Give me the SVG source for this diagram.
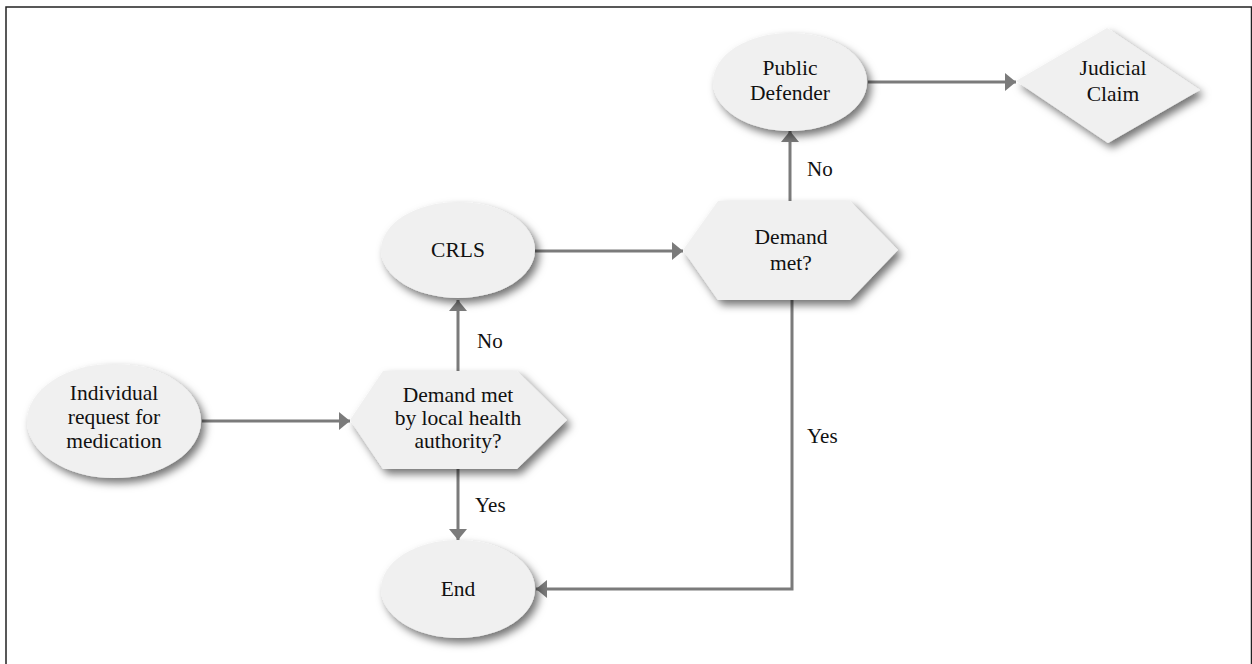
<svg xmlns="http://www.w3.org/2000/svg" width="1252" height="664" viewBox="0 0 1252 664">
<defs>
<style>
.node{fill:#f0f0f0;filter:url(#sh);}
.t{font-family:"Liberation Serif","Times New Roman",serif;font-size:21.5px;fill:#111;text-anchor:middle;}
.lbl{font-family:"Liberation Serif","Times New Roman",serif;font-size:21px;fill:#111;}
.c{fill:none;stroke:#7b7b7b;stroke-width:3;marker-end:url(#ah);}
</style>
<filter id="sh" x="-20%" y="-20%" width="150%" height="160%">
<feDropShadow dx="4" dy="5" stdDeviation="4" flood-color="#000" flood-opacity="0.55"/>
</filter>
<marker id="ah" markerUnits="userSpaceOnUse" markerWidth="12" markerHeight="18" refX="11" refY="9" orient="auto">
<path d="M0,0 L11,9 L0,18 z" fill="#7b7b7b"/>
</marker>
</defs>
<rect x="6" y="7" width="1245.5" height="700" fill="#fff" stroke="#222" stroke-width="1.5"/>
<g id="connectors">
<path class="c" d="M202,421 L350,421"/>
<path class="c" d="M458,371 L458,300"/>
<path class="c" d="M458,469 L458,540"/>
<path class="c" d="M535,251 L683,251"/>
<path class="c" d="M790,201 L790,131"/>
<path class="c" d="M868,82 L1016,82"/>
<path class="c" d="M792,300 L792,589 L536,589"/>
</g>
<g id="labels">
<text class="lbl" x="807" y="176">No</text>
<text class="lbl" x="477" y="348">No</text>
<text class="lbl" x="475" y="512">Yes</text>
<text class="lbl" x="807" y="443">Yes</text>
</g>
<g id="n-individual">
<ellipse class="node" cx="114" cy="421" rx="87" ry="57"/>
<text class="t" x="114" y="400">Individual</text>
<text class="t" x="114" y="424">request for</text>
<text class="t" x="114" y="448">medication</text>
</g>
<g id="n-demand1">
<polygon class="node" points="350,420 383,371 517,371 567,420 517,469 383,469"/>
<text class="t" x="458" y="402">Demand met</text>
<text class="t" x="458" y="425">by local health</text>
<text class="t" x="458" y="448">authority?</text>
</g>
<g id="n-crls">
<ellipse class="node" cx="458" cy="250" rx="77" ry="48"/>
<text class="t" x="458" y="257">CRLS</text>
</g>
<g id="n-demand2">
<polygon class="node" points="683,250 718,201 850,201 898,250 850,300 718,300"/>
<text class="t" x="791" y="244">Demand</text>
<text class="t" x="791" y="270">met?</text>
</g>
<g id="n-public">
<ellipse class="node" cx="790" cy="82" rx="77" ry="49"/>
<text class="t" x="790" y="75">Public</text>
<text class="t" x="790" y="100">Defender</text>
</g>
<g id="n-judicial">
<polygon class="node" points="1016,81 1107,28 1200,90 1108,143"/>
<text class="t" x="1113" y="75">Judicial</text>
<text class="t" x="1113" y="101">Claim</text>
</g>
<g id="n-end">
<ellipse class="node" cx="458" cy="589" rx="77" ry="49"/>
<text class="t" x="458" y="596">End</text>
</g>
</svg>
